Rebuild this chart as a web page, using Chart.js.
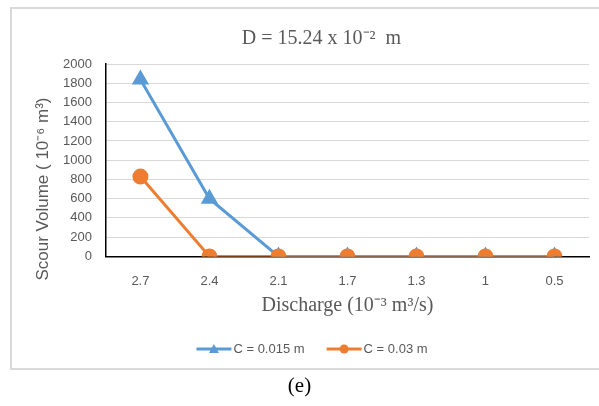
<!DOCTYPE html>
<html>
<head>
<meta charset="utf-8">
<script src="https://cdn.jsdelivr.net/npm/chart.js@4.4.0/dist/chart.umd.min.js"></script>
<style>
  html, body { margin: 0; padding: 0; background: #fff; }
  #wrap { position: relative; width: 599px; height: 406px; overflow: hidden; }
  #frame { position: absolute; left: 10px; top: 7px; width: 600px; height: 363px; border: 2px solid #d9d9d9; box-sizing: border-box; }
  #chartBox { position: absolute; left: 0; top: 0; width: 599px; height: 406px; }
  #caption { position: absolute; left: 0; top: 373px; width: 599px; text-align: center;
             font-family: "Liberation Serif", "Times New Roman", serif; font-size: 21px; color: #000; }
</style>
</head>
<body>
<div id="wrap">
  <div id="frame"></div>
  <div id="chartBox"><canvas id="chart" width="599" height="406"></canvas></div>
  <div id="caption">(e)</div>
</div>
<script>
// --- data ---
const discharge = ['2.7', '2.4', '2.1', '1.7', '1.3', '1', '0.5'];
const volC015 = [1840, 600, 0, 0, 0, 0, 0];
const volC03 = [830, 0, 0, 0, 0, 0, 0];
const yTicks = [0, 200, 400, 600, 800, 1000, 1200, 1400, 1600, 1800, 2000];

const BLUE = '#5b9bd5';
const ORANGE = '#ed7d31';
const GREY_TEXT = '#595959';
const sans = '"Liberation Sans", Arial, sans-serif';
const serif = '"Liberation Serif", "Times New Roman", serif';
const yTitle = 'Scour Volume ( 10\u207B\u2076 m\u00B3)';

// legend drawn as line + marker, like the spreadsheet legend
const lineLegend = {
    id: 'lineLegend',
    afterDraw(chart) {
        const ctx = chart.ctx;
        const sets = chart.data.datasets;
        const y = 349;
        ctx.save();
        ctx.font = '13px ' + sans;
        const lineW = 35, gap = 2, between = 22;
        let total = 0;
        sets.forEach((ds, i) => {
            total += lineW + gap + ctx.measureText(ds.label).width + (i ? between : 0);
        });
        let x = 312 - total / 2;
        sets.forEach((ds, i) => {
            if (i) x += between;
            ctx.strokeStyle = ds.borderColor;
            ctx.lineWidth = 3;
            ctx.beginPath();
            ctx.moveTo(x, y);
            ctx.lineTo(x + lineW, y);
            ctx.stroke();
            ctx.fillStyle = ds.borderColor;
            const cx = x + lineW / 2;
            if (ds.pointStyle === 'triangle') {
                ctx.beginPath();
                ctx.moveTo(cx, y - 5);
                ctx.lineTo(cx + 5, y + 4);
                ctx.lineTo(cx - 5, y + 4);
                ctx.closePath();
                ctx.fill();
            } else {
                ctx.beginPath();
                ctx.arc(cx, y, 4.5, 0, Math.PI * 2);
                ctx.fill();
            }
            x += lineW + gap;
            ctx.fillStyle = GREY_TEXT;
            ctx.textBaseline = 'middle';
            ctx.fillText(ds.label, x, y);
            x += ctx.measureText(ds.label).width;
        });
        ctx.restore();
    }
};

// rotated y axis title, sitting a bit low like the original
const yAxisTitle = {
    id: 'yAxisTitle',
    afterDraw(chart) {
        const ctx = chart.ctx;
        ctx.save();
        ctx.translate(43, 189);
        ctx.rotate(-Math.PI / 2);
        ctx.font = '17px ' + sans;
        ctx.fillStyle = GREY_TEXT;
        ctx.textAlign = 'center';
        ctx.textBaseline = 'middle';
        ctx.fillText(yTitle, 0, 0);
        ctx.restore();
    }
};

new Chart(document.getElementById('chart'), {
    type: 'line',
    data: {
        labels: discharge,
        datasets: [
            { label: 'C = 0.015 m', data: volC015, borderColor: BLUE, backgroundColor: BLUE,
              borderWidth: 3, pointStyle: 'triangle', pointRadius: 7, pointHoverRadius: 7, order: 1 },
            { label: 'C = 0.03 m', data: volC03, borderColor: ORANGE, backgroundColor: ORANGE,
              borderWidth: 3, pointStyle: 'circle', pointRadius: 6.5, pointHoverRadius: 6.5, order: 0 }
        ]
    },
    options: {
        responsive: false,
        animation: false,
        layout: { padding: { left: 49, right: 5, top: 27, bottom: 88 } },
        plugins: {
            legend: { display: false },
            tooltip: { enabled: false },
            title: {
                display: true,
                text: 'D = 15.24 x 10\u207B\u00B2  m',
                color: GREY_TEXT,
                font: { family: serif, size: 20, weight: 'normal' },
                padding: { top: 0, bottom: 13 }
            }
        },
        scales: {
            x: {
                offset: true,
                grid: { display: false, drawTicks: false },
                border: { color: '#000', width: 1.5 },
                ticks: { color: GREY_TEXT, font: { family: sans, size: 13 }, padding: 17 },
                title: {
                    display: true,
                    text: 'Discharge (10\u207B\u00B3 m\u00B3/s)',
                    color: GREY_TEXT,
                    font: { family: serif, size: 20 },
                    padding: { top: -12, bottom: 0 }
                }
            },
            y: {
                min: 0,
                max: 2000,
                afterBuildTicks: axis => { axis.ticks = yTicks.map(v => ({ value: v })); },
                grid: { color: '#d9d9d9', lineWidth: 1, drawTicks: false },
                border: { color: '#000', width: 1.5 },
                ticks: { color: GREY_TEXT, font: { family: sans, size: 13 }, padding: 14,
                         autoSkip: false, callback: v => String(v) }
            }
        }
    },
    plugins: [lineLegend, yAxisTitle]
});
</script>
</body>
</html>
